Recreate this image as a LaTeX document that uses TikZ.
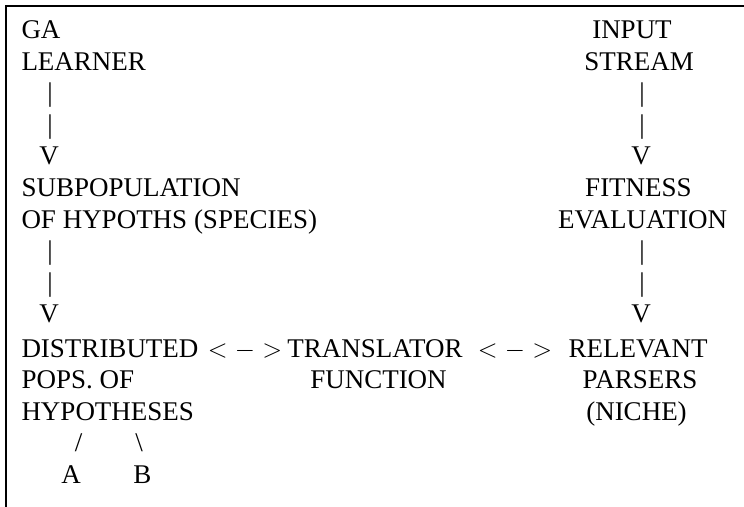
\documentclass[tikz,border=0pt]{standalone}
\usepackage{fix-cm}
\usepackage{fontspec}
\setmainfont{Liberation Serif}
\begin{document}
\begin{tikzpicture}[x=1pt,y=-1pt,
  txt/.style={inner sep=0pt, outer sep=0pt, font=\fontsize{27}{32}\selectfont},
  lft/.style={txt, anchor=base west},
  ctr/.style={txt, anchor=base},
  mth/.style={inner sep=0pt, outer sep=0pt, anchor=base, font=\fontsize{26}{31}\selectfont},
  frame/.style={line width=2pt, line cap=rect}]
\useasboundingbox (0,0) rectangle (744,506);
\draw[frame] (6,506) -- (6,6) -- (744,6);
% left column
\node[lft] (ga) at (21.5,38.5) {GA};
\node[lft] (learner) at (21.5,70.1) {LEARNER};
\node[ctr] (lb1) at (50,101.7) {|};
\node[ctr] (lb2) at (50,133.3) {|};
\node[ctr] (lv1) at (49,164.9) {V};
\node[lft] (subpop) at (21.5,196.5) {SUBPOPULATION};
\node[lft] (ofhyp) at (21.5,228.1) {OF HYPOTHS (SPECIES)};
\node[ctr] (lb3) at (50,259.7) {|};
\node[ctr] (lb4) at (50,291.3) {|};
\node[ctr] (lv2) at (49,322.9) {V};
\node[lft] (dist) at (21.5,357) {DISTRIBUTED};
\node[lft] (pops) at (21.5,388.6) {POPS. OF};
\node[lft] (hyp) at (21.5,420.2) {HYPOTHESES};
\node[ctr] (sl) at (78.5,451.8) {/};
\node[ctr] (bs) at (139,451.8) {\textbackslash};
\node[ctr] (a) at (71,483.4) {A};
\node[ctr] (b) at (142.5,483.4) {B};
% middle
\node[mth] (arr1) at (245,357) {$<->$};
\node[ctr] (trans) at (375,357) {TRANSLATOR};
\node[ctr] (func) at (378.5,388.6) {FUNCTION};
\node[mth] (arr2) at (515,357) {$<->$};
% right column
\node[ctr] (input) at (632,38.5) {INPUT};
\node[ctr] (stream) at (639,70.1) {STREAM};
\node[ctr] (rb1) at (642,101.7) {|};
\node[ctr] (rb2) at (642,133.3) {|};
\node[ctr] (rv1) at (641,164.9) {V};
\node[ctr] (fitness) at (638.5,196.5) {FITNESS};
\node[ctr] (eval) at (642.5,228.1) {EVALUATION};
\node[ctr] (rb3) at (642,259.7) {|};
\node[ctr] (rb4) at (642,291.3) {|};
\node[ctr] (rv2) at (641,322.9) {V};
\node[ctr] (rel) at (638,357) {RELEVANT};
\node[ctr] (parsers) at (640,388.6) {PARSERS};
\node[ctr] (niche) at (636.5,420.2) {(NICHE)};
\end{tikzpicture}
\end{document}
